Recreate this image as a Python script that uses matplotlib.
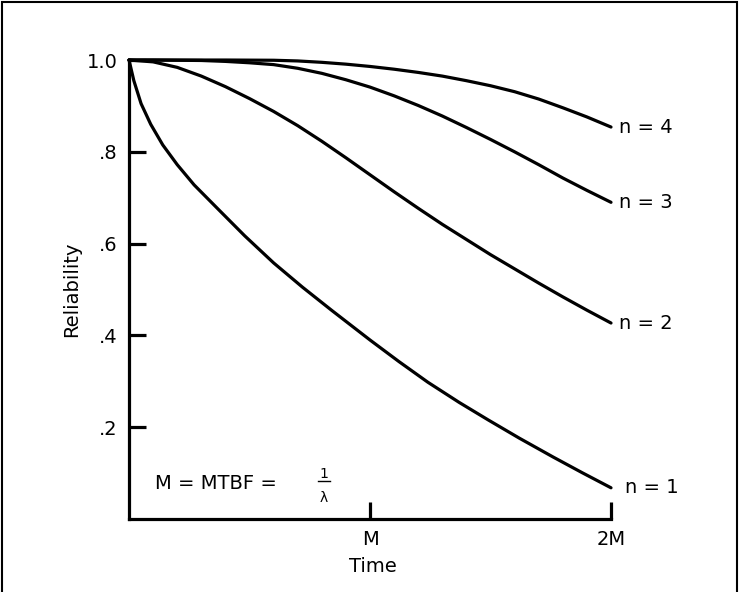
import numpy as np
import matplotlib.pyplot as plt
from matplotlib.patches import Rectangle

plt.rcParams['font.family'] = ['DejaVu Sans']

# curves (time in units of M, reliability)
t_n1 = [0, 0.02, 0.05, 0.09, 0.14, 0.20, 0.27, 0.37, 0.48, 0.60, 0.72, 0.84,
        1.00, 1.12, 1.24, 1.37, 1.49, 1.62, 1.76, 1.88, 2.00]
r_n1 = [1.0, 0.955, 0.905, 0.86, 0.815, 0.772, 0.728, 0.675, 0.617, 0.558, 0.505, 0.455,
        0.39, 0.343, 0.298, 0.254, 0.216, 0.176, 0.135, 0.101, 0.068]

t_n2 = [0, 0.1, 0.2, 0.3, 0.4, 0.5, 0.6, 0.7, 0.8, 0.9, 1.0,
        1.1, 1.2, 1.3, 1.4, 1.5, 1.6, 1.7, 1.8, 1.9, 2.0]
r_n2 = [1.0, 0.996, 0.984, 0.965, 0.942, 0.916, 0.888, 0.857, 0.823, 0.787, 0.750,
        0.713, 0.677, 0.642, 0.609, 0.576, 0.545, 0.514, 0.484, 0.455, 0.427]

t_n3 = [0, 0.1, 0.2, 0.3, 0.4, 0.5, 0.6, 0.7, 0.8, 0.9, 1.0,
        1.1, 1.2, 1.3, 1.4, 1.5, 1.6, 1.7, 1.8, 1.9, 2.0]
r_n3 = [1.0, 1.0, 0.9995, 0.999, 0.997, 0.994, 0.990, 0.982, 0.971, 0.957, 0.941,
        0.922, 0.901, 0.878, 0.853, 0.827, 0.800, 0.772, 0.743, 0.716, 0.690]

t_n4 = [0, 0.2, 0.4, 0.6, 0.7, 0.8, 0.9, 1.0,
        1.1, 1.2, 1.3, 1.4, 1.5, 1.6, 1.7, 1.8, 1.9, 2.0]
r_n4 = [1.0, 1.0, 1.0, 0.9995, 0.998, 0.995, 0.991, 0.986,
        0.980, 0.973, 0.965, 0.955, 0.944, 0.931, 0.915, 0.896, 0.876, 0.854]

curve_labels = ['n = 1', 'n = 2', 'n = 3', 'n = 4']
y_ticks = [0.2, 0.4, 0.6, 0.8, 1.0]
y_ticklabels = ['.2', '.4', '.6', '.8', '1.0']
x_ticks = [1, 2]
x_ticklabels = ['M', '2M']

fig = plt.figure(figsize=(7.39, 5.92), dpi=100)
ax = fig.add_axes([0.1746, 0.1233, 0.6522, 0.7753])

curves = [(t_n1, r_n1), (t_n2, r_n2), (t_n3, r_n3), (t_n4, r_n4)]
for i, ((t, r), lab) in enumerate(zip(curves, curve_labels)):
    ax.plot(t, r, color='black', lw=2.3, clip_on=False, solid_capstyle='round',
            solid_joinstyle='round')
    dx = 0.06 if i == 0 else 0.035
    ax.text(t[-1] + dx, r[-1], lab, ha='left', va='center', fontsize=14)

ax.set_xlim(0, 2)
ax.set_ylim(0, 1.0)
for s in ['top', 'right']:
    ax.spines[s].set_visible(False)
for s in ['left', 'bottom']:
    ax.spines[s].set_linewidth(2.3)

ax.set_yticks(y_ticks)
ax.set_yticklabels(y_ticklabels)
ax.set_xticks(x_ticks)
ax.set_xticklabels(x_ticklabels)
ax.tick_params(direction='in', length=12, width=2.3, labelsize=14, pad=8)

ax.set_xlabel('Time', fontsize=14, va='center')
ax.xaxis.set_label_coords(0.505, -0.103)
ax.set_ylabel('Reliability', fontsize=14, va='center')
ax.yaxis.set_label_coords(-0.12, 0.5)

# MTBF note
ax.text(0.108, 0.078, 'M = MTBF =', ha='left', va='center', fontsize=14)
ax.text(0.81, 0.098, '1', ha='center', va='center', fontsize=10)
ax.plot([0.785, 0.835], [0.082, 0.082], color='black', lw=1.0)
ax.text(0.81, 0.045, 'λ', ha='center', va='center', fontsize=10)

# frame round the whole picture
fig.patches.append(Rectangle((0.003, -0.02), 0.994, 1.017, transform=fig.transFigure,
                             fill=False, edgecolor='black', lw=1.5))

fig.savefig('out.png', dpi=100)
